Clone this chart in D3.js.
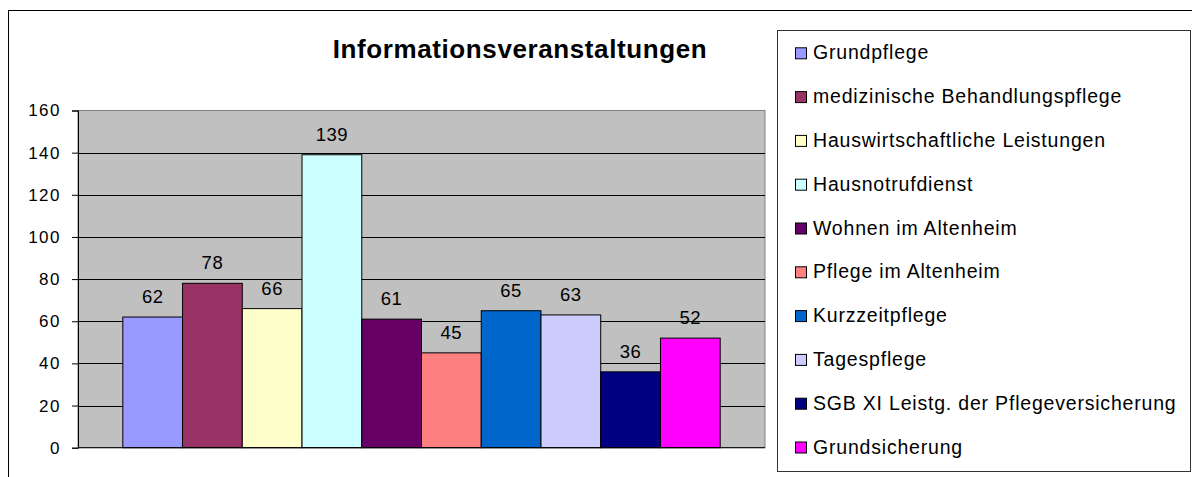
<!DOCTYPE html>
<html lang="de">
<head>
<meta charset="UTF-8">
<title>Informationsveranstaltungen</title>
<style>
  body { margin: 0; padding: 0; background: #ffffff; }
  svg { display: block; font-family: "Liberation Sans", Arial, sans-serif; }
</style>
<script src="https://d3js.org/d3.v7.min.js"></script>
</head>
<body>
<script>
// Daten
const categories = [
  "Grundpflege",
  "medizinische Behandlungspflege",
  "Hauswirtschaftliche Leistungen",
  "Hausnotrufdienst",
  "Wohnen im Altenheim",
  "Pflege im Altenheim",
  "Kurzzeitpflege",
  "Tagespflege",
  "SGB XI Leistg. der Pflegeversicherung",
  "Grundsicherung"
];
const values = [62, 78, 66, 139, 61, 45, 65, 63, 36, 52];
const colors = ["#9999FF", "#993366", "#FFFFCC", "#CCFFFF", "#660066",
                "#FF8080", "#0066CC", "#CCCCFF", "#000080", "#FF00FF"];
const yTicks = [0, 20, 40, 60, 80, 100, 120, 140, 160];

const width = 1192, height = 477;

const svg = d3.select("body").append("svg")
  .attr("width", width)
  .attr("height", height);

// äußerer Rahmen
svg.append("rect")
  .attr("x", 8.5).attr("y", 10.5)
  .attr("width", 1200).attr("height", 500)
  .attr("fill", "#fff").attr("stroke", "#000");

// Plotbereich
const plot = { left: 78, top: 110.5, right: 765, bottom: 447.7 };

const x = d3.scaleBand()
  .domain(categories)
  .range([plot.left, plot.right])
  .paddingInner(0)
  .paddingOuter(0.75);

const y = d3.scaleLinear()
  .domain([0, 160])
  .range([plot.bottom, plot.top]);

svg.append("rect")
  .attr("x", plot.left).attr("y", plot.top)
  .attr("width", plot.right - plot.left)
  .attr("height", plot.bottom - plot.top)
  .attr("fill", "#C0C0C0")
  .attr("stroke", "#808080");

// Gitterlinien
svg.append("g")
  .selectAll("line")
  .data(yTicks.filter(d => d > 0 && d < 160))
  .join("line")
  .attr("x1", plot.left).attr("x2", plot.right)
  .attr("y1", d => Math.round(y(d)) + 0.5)
  .attr("y2", d => Math.round(y(d)) + 0.5)
  .attr("stroke", "#000");

// Balken
svg.append("g")
  .selectAll("rect")
  .data(values)
  .join("rect")
  .attr("x", (d, i) => x(categories[i]))
  .attr("y", d => y(d))
  .attr("width", x.bandwidth())
  .attr("height", d => y(0) - y(d))
  .attr("fill", (d, i) => colors[i])
  .attr("stroke", "#000")
  .attr("stroke-width", 1);

// Datenbeschriftung
svg.append("g")
  .selectAll("text")
  .data(values)
  .join("text")
  .attr("x", (d, i) => x(categories[i]) + x.bandwidth() / 2)
  .attr("y", d => y(d) - 14)
  .attr("text-anchor", "middle")
  .attr("font-size", 18.5)
  .attr("letter-spacing", 0.5)
  .attr("fill", "#000")
  .text(d => d);

// y-Achse
const yAxis = svg.append("g")
  .attr("transform", `translate(${plot.left},0)`)
  .call(d3.axisLeft(y).tickValues(yTicks).tickSize(6).tickPadding(11));
yAxis.select(".domain").attr("stroke", "#000");
yAxis.selectAll(".tick line").attr("stroke", "#000");
yAxis.selectAll(".tick text")
  .attr("font-size", 17)
  .attr("letter-spacing", 1.5)
  .attr("font-family", "Liberation Sans, Arial, sans-serif")
  .attr("fill", "#000");

// x-Achse (Grundlinie)
svg.append("line")
  .attr("x1", plot.left).attr("x2", plot.right)
  .attr("y1", plot.bottom).attr("y2", plot.bottom)
  .attr("stroke", "#000");

// Titel
svg.append("text")
  .attr("x", 520).attr("y", 58)
  .attr("text-anchor", "middle")
  .attr("font-size", 26)
  .attr("font-weight", "bold")
  .attr("letter-spacing", 0.6)
  .text("Informationsveranstaltungen");

// Legende
svg.append("rect")
  .attr("x", 777.5).attr("y", 30.5)
  .attr("width", 413).attr("height", 441)
  .attr("fill", "#fff")
  .attr("stroke", "#333");

const legend = svg.append("g")
  .selectAll("g")
  .data(categories)
  .join("g")
  .attr("transform", (d, i) => `translate(795,${59.3 + i * 43.8})`);

legend.append("rect")
  .attr("x", 0.5).attr("y", -11.5)
  .attr("width", 11).attr("height", 11)
  .attr("fill", (d, i) => colors[i])
  .attr("stroke", "#000");

legend.append("text")
  .attr("x", 18).attr("y", 0)
  .attr("font-size", 19.5)
  .attr("letter-spacing", 0.8)
  .text(d => d);
</script>
</body>
</html>
